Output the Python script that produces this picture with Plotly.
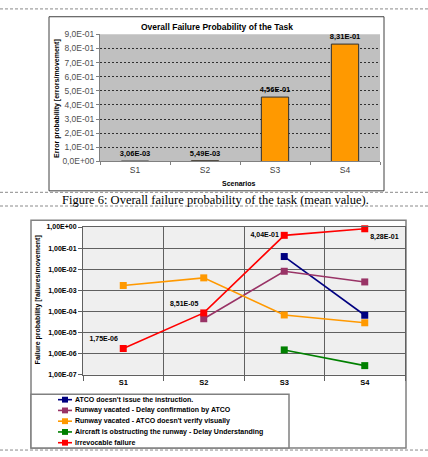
import plotly.graph_objects as go

W, H = 428, 457

# ---------------- data ----------------
scenarios = ["S1", "S2", "S3", "S4"]
overall_prob = [3.06e-3, 5.49e-3, 4.56e-1, 8.31e-1]
bar_tick_vals = [0.0, 0.1, 0.2, 0.3, 0.4, 0.5, 0.6, 0.7, 0.8, 0.9]
bar_tick_text = ["0,0E+00", "1,0E-01", "2,0E-01", "3,0E-01", "4,0E-01",
                 "5,0E-01", "6,0E-01", "7,0E-01", "8,0E-01", "9,0E-01"]

atco_no_issue = [None, None, 4.0e-2, 6.6e-5]
delay_confirm = [None, 4.5e-5, 8.0e-3, 2.5e-3]
no_verify = [1.7e-3, 3.9e-3, 6.8e-5, 2.9e-5]
obstructing = [None, None, 1.5e-6, 2.7e-7]
irrevocable = [1.75e-6, 8.51e-5, 4.04e-1, 8.28e-1]
log_tick_vals = [1e-7, 1e-6, 1e-5, 1e-4, 1e-3, 1e-2, 1e-1, 1e0]
log_tick_text = ["1,00E-07", "1,00E-06", "1,00E-05", "1,00E-04",
                 "1,00E-03", "1,00E-02", "1,00E-01", "1,00E+00"]

series_names = ["ATCO doesn't issue the instruction.",
                "Runway vacated - Delay confirmation by ATCO",
                "Runway vacated - ATCO doesn't verify visually",
                "Aircraft is obstructing the runway - Delay Understanding",
                "Irrevocable failure"]
series_values = [atco_no_issue, delay_confirm, no_verify, obstructing, irrevocable]
series_colors = ["#000080", "#993366", "#FF9900", "#008000", "#FF0000"]


def fmt(v, d):
    return f"{v:.{d}E}".replace(".", ",")


def px(x):
    return x / W


def py(y):
    return 1 - y / H


FONT = "Liberation Sans, Arial, sans-serif"
SERIF = "Liberation Serif, Times New Roman, serif"

fig = go.Figure()

# ---------------- top bar chart ----------------
fig.add_trace(go.Bar(
    x=scenarios, y=overall_prob, width=0.39,
    marker=dict(color="#FF9900", line=dict(color="#303030", width=1)),
    text=[fmt(v, 2) for v in overall_prob], textposition="outside",
    textfont=dict(family=FONT, size=7.5, color="#000000", weight="bold"),
    constraintext="none", cliponaxis=False,
    xaxis="x", yaxis="y", showlegend=False, hoverinfo="skip"))

# ---------------- bottom log line chart ----------------
for name, vals, col in zip(series_names, series_values, series_colors):
    is_red = name == "Irrevocable failure"
    fig.add_trace(go.Scatter(
        x=scenarios, y=vals, name=name,
        mode="lines+markers+text" if is_red else "lines+markers",
        line=dict(color=col, width=1.6),
        marker=dict(symbol="square", size=7, color=col),
        text=[fmt(v, 2) for v in vals] if is_red else None,
        textposition=["top left", "top left", "middle left", "bottom right"] if is_red else None,
        textfont=dict(family=FONT, size=7, color="#000000", weight="bold"),
        cliponaxis=False, connectgaps=False,
        xaxis="x2", yaxis="y2", showlegend=False, hoverinfo="skip"))

shapes = []
annotations = []

# dashed page separators
for yy in [4, 191.5, 205.5, 455]:
    shapes.append(dict(type="line", xref="paper", yref="paper",
                       x0=0, x1=1, y0=py(yy), y1=py(yy),
                       line=dict(color="#8a8a8a", width=1, dash="3px,2px")))

# frames
shapes.append(dict(type="rect", xref="paper", yref="paper",
                   x0=px(49), x1=px(384), y0=py(190), y1=py(12),
                   line=dict(color="#404040", width=1), layer="below"))
shapes.append(dict(type="rect", xref="paper", yref="paper",
                   x0=px(31), x1=px(406), y0=py(453), y1=py(220),
                   line=dict(color="#808080", width=1.5), layer="below"))
# legend box
shapes.append(dict(type="rect", xref="paper", yref="paper",
                   x0=px(31), x1=px(289), y0=py(453), y1=py(398),
                   line=dict(color="#808080", width=1.5), fillcolor="#FFFFFF"))

# manual legend
leg_y0, leg_dy = 403.5, 11
for i, (name, col) in enumerate(zip(series_names, series_colors)):
    yy = leg_y0 + i * leg_dy
    shapes.append(dict(type="line", xref="paper", yref="paper",
                       x0=px(58), x1=px(72), y0=py(yy), y1=py(yy),
                       line=dict(color=col, width=1.6)))
    shapes.append(dict(type="rect", xref="paper", yref="paper",
                       x0=px(62), x1=px(68), y0=py(yy + 3), y1=py(yy - 3),
                       line=dict(width=0), fillcolor=col))
    annotations.append(dict(text=name, xref="paper", yref="paper",
                            x=px(73), y=py(yy), xanchor="left", yanchor="middle",
                            showarrow=False,
                            font=dict(family=FONT, size=7, color="#000000", weight="bold")))

# titles / labels
annotations += [
    dict(text="Overall Failure Probability of the Task", x=px(217), y=py(23),
         font=dict(family=FONT, size=8.5, color="#000000", weight="bold")),
    dict(text="Error probability [errors/movement]", x=px(57), y=py(95), textangle=-90,
         font=dict(family=FONT, size=7, color="#000000", weight="bold")),
    dict(text="Scenarios", x=px(239), y=py(182),
         font=dict(family=FONT, size=7, color="#000000", weight="bold")),
    dict(text="Figure 6: Overall failure probability of the task (mean value).",
         x=px(216), y=py(199),
         font=dict(family=SERIF, size=12.5, color="#000000")),
    dict(text="Failure probability [failures/movement]", x=px(38), y=py(302), textangle=-90,
         font=dict(family=FONT, size=7, color="#000000", weight="bold")),
]
for a in annotations:
    a.setdefault("xref", "paper")
    a.setdefault("yref", "paper")
    a.setdefault("showarrow", False)
    a.setdefault("xanchor", "center")
    a.setdefault("yanchor", "middle")

fig.update_layout(
    width=W, height=H, margin=dict(l=0, r=0, t=0, b=0),
    paper_bgcolor="#FFFFFF", plot_bgcolor="rgba(0,0,0,0)",
    font=dict(family=FONT),
    shapes=shapes, annotations=annotations,
    xaxis=dict(domain=[px(100), px(380)], type="category", range=[-0.5, 3.5],
               showgrid=False, showline=True, linecolor="#808080", linewidth=1,
               ticks="outside", tickson="boundaries", ticklen=3, tickcolor="#808080",
               tickfont=dict(family=FONT, size=8.5, color="#404040"), anchor="y"),
    yaxis=dict(domain=[py(160), py(30)], range=[0, 0.9],
               tickvals=bar_tick_vals, ticktext=bar_tick_text,
               showgrid=True, gridcolor="#303030", griddash="2px,2px", gridwidth=1,
               showline=True, linecolor="#808080", linewidth=1,
               ticks="outside", ticklen=3, tickcolor="#808080",
               tickfont=dict(family=FONT, size=8.5, color="#505050"),
               zeroline=False, anchor="x"),
    xaxis2=dict(domain=[px(83), px(405)], type="category", range=[-0.5, 3.5],
                showgrid=True, gridcolor="#606060", gridwidth=1,
                tickson="boundaries", ticks="outside", ticklen=5, tickcolor="#606060",
                showline=True, linecolor="#606060", mirror=True,
                tickfont=dict(family=FONT, size=7.5, color="#000000", weight="bold"),
                anchor="y2"),
    yaxis2=dict(domain=[py(378), py(227)], type="log", range=[-7, 0],
                tickvals=log_tick_vals, ticktext=log_tick_text,
                showgrid=True, gridcolor="#606060", gridwidth=1,
                ticks="outside", ticklen=4, tickcolor="#606060",
                showline=True, linecolor="#606060", mirror=True,
                tickfont=dict(family=FONT, size=7, color="#000000", weight="bold"),
                zeroline=False, anchor="x2"),
)

# plot area backgrounds
fig.add_shape(type="rect", xref="x domain", yref="y domain", x0=0, x1=1, y0=0, y1=1,
              fillcolor="#C0C0C0", line=dict(width=0), layer="below")
fig.add_shape(type="rect", xref="x2 domain", yref="y2 domain", x0=0, x1=1, y0=0, y1=1,
              fillcolor="#EFEFEF", line=dict(width=0), layer="below")

fig.write_html("out.html")
